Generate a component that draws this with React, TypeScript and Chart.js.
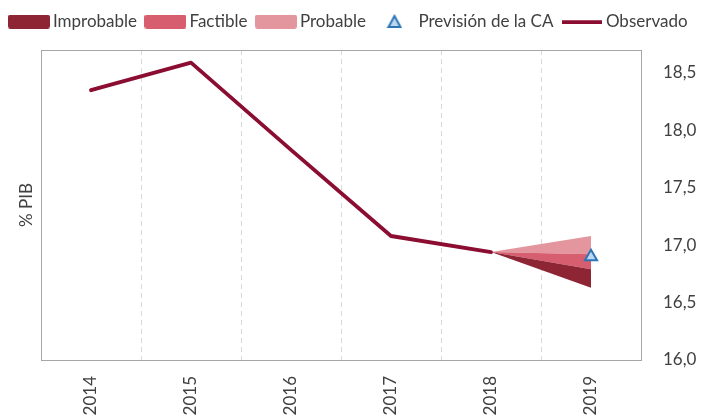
import React, { useEffect, useRef } from "react";
import { Chart, registerables } from "chart.js";

Chart.register(...registerables);

const years = ["2014", "2015", "2016", "2017", "2018", "2019"];
const observado = [18.35, 18.59, 17.83, 17.08, 16.94, null];
const improbableLow = [null, null, null, null, 16.94, 16.63];
const factibleLow = [null, null, null, null, 16.94, 16.79];
const probableLow = [null, null, null, null, 16.94, 16.92];
const probableHigh = [null, null, null, null, 16.94, 17.08];
const prevision = [null, null, null, null, null, 16.9];
const yTicks = [16.0, 16.5, 17.0, 17.5, 18.0, 18.5];
const legendLabels = ["Improbable", "Factible", "Probable", "Previsión de la CA", "Observado"];

const C_OBS = "#8B0D32";
const C_IMP = "#8E2535";
const C_FAC = "#D65E6E";
const C_PRO = "#E4969E";
const C_TRI_FILL = "#BDD7EE";
const C_TRI_LINE = "#2E75B6";
const TEXT = "#404040";
const FONT = "Lato";

function boxImg(color: string) {
  const c = document.createElement("canvas");
  c.width = 42; c.height = 14;
  const x = c.getContext("2d")!;
  x.fillStyle = color;
  x.beginPath();
  (x as any).roundRect(0, 0, 42, 14, 2.5);
  x.fill();
  return c;
}
function triImg() {
  const c = document.createElement("canvas");
  c.width = 16; c.height = 15;
  const x = c.getContext("2d")!;
  x.fillStyle = C_TRI_FILL;
  x.strokeStyle = C_TRI_LINE;
  x.lineWidth = 2;
  x.beginPath();
  x.moveTo(8, 2); x.lineTo(14, 13); x.lineTo(2, 13); x.closePath();
  x.fill(); x.stroke();
  return c;
}
function lineImg() {
  const c = document.createElement("canvas");
  c.width = 40; c.height = 4;
  const x = c.getContext("2d")!;
  x.fillStyle = C_OBS;
  x.fillRect(0, 0.5, 40, 3.5);
  return c;
}

const boxPlugin = {
  id: "plotBox",
  beforeInit(chart: any) {
    const lg = chart.legend;
    if (lg) {
      const orig = lg.fit;
      lg.fit = function () {
        orig.call(this);
        this.height += 10;
      };
    }
  },
  afterDraw(chart: any) {
    const { ctx, chartArea: a } = chart;
    ctx.save();
    ctx.strokeStyle = "#A6A6A6";
    ctx.lineWidth = 1;
    ctx.strokeRect(Math.round(a.left) + 0.5, Math.round(a.top) + 0.5, Math.round(a.right - a.left), Math.round(a.bottom - a.top));
    ctx.restore();
  },
};

export default function App() {
  const ref = useRef<HTMLCanvasElement>(null);
  useEffect(() => {
    const imgs = [boxImg(C_IMP), boxImg(C_FAC), boxImg(C_PRO), triImg(), lineImg()];
    const fanBase = { borderWidth: 0, pointRadius: 0, pointHoverRadius: 0, spanGaps: false };
    const chart = new Chart(ref.current!, {
      type: "line",
      data: {
        labels: years,
        datasets: [
          { ...fanBase, label: legendLabels[0], data: improbableLow, backgroundColor: C_IMP, borderColor: C_IMP, fill: 1, yAxisID: "y" },
          { ...fanBase, label: legendLabels[1], data: factibleLow, backgroundColor: C_FAC, borderColor: C_FAC, fill: 2, yAxisID: "y" },
          { ...fanBase, label: legendLabels[2], data: probableLow, backgroundColor: C_PRO, borderColor: C_PRO, fill: 5, yAxisID: "y" },
          {
            label: legendLabels[3], data: prevision, showLine: false, pointStyle: "triangle",
            pointRadius: 7, pointBackgroundColor: C_TRI_FILL, pointBorderColor: C_TRI_LINE, pointBorderWidth: 2,
            backgroundColor: C_TRI_FILL, borderColor: C_TRI_LINE, fill: false, yAxisID: "y",
          },
          {
            label: legendLabels[4], data: observado, borderColor: C_OBS, backgroundColor: C_OBS, borderWidth: 3.8,
            pointRadius: 0, fill: false, tension: 0, borderCapStyle: "round", borderJoinStyle: "round", yAxisID: "y",
          },
          { ...fanBase, label: "top", data: probableHigh, backgroundColor: C_PRO, borderColor: C_PRO, fill: false, yAxisID: "y" },
        ] as any,
      },
      options: {
        animation: false,
        responsive: true,
        maintainAspectRatio: false,
        layout: { padding: { top: 0, right: 0, bottom: 0, left: 0 } },
        plugins: {
          filler: { drawTime: "beforeDatasetsDraw" } as any,
          tooltip: { enabled: false },
          legend: {
            position: "top",
            labels: {
              usePointStyle: true,
              pointStyleWidth: 31,
              boxHeight: 14,
              padding: 13,
              color: TEXT,
              font: { family: FONT, size: 17 },
              generateLabels: () =>
                legendLabels.map((t, i) => ({
                  text: t, pointStyle: imgs[i] as any, fillStyle: "rgba(0,0,0,0)", strokeStyle: "rgba(0,0,0,0)",
                  lineWidth: 0, hidden: false, datasetIndex: i, fontColor: TEXT,
                })),
            },
          },
        },
        scales: {
          x: {
            type: "category",
            offset: true,
            grid: { display: true, offset: true, color: "#D9D9D9", lineWidth: 1, drawTicks: false },
            border: { display: false, dash: [5, 4] },
            ticks: { color: TEXT, font: { family: FONT, size: 17 }, minRotation: 90, maxRotation: 90, padding: 16, autoSkip: false },
            afterFit: (s: any) => { s.height = 59; },
          },
          y: {
            type: "linear",
            position: "right",
            min: 16,
            max: 18.7,
            grid: { display: false, drawTicks: false },
            border: { display: false },
            afterBuildTicks: (s: any) => { s.ticks = yTicks.map((v) => ({ value: v })); },
            ticks: {
              color: TEXT, font: { family: FONT, size: 17 }, padding: 22,
              callback: (v: any) => Number(v).toFixed(1).replace(".", ","),
            },
            afterFit: (s: any) => { s.width = 60; },
          },
          yl: {
            type: "linear",
            position: "left",
            min: 16,
            max: 18.7,
            grid: { display: false, drawTicks: false },
            border: { display: false },
            ticks: { display: false },
            title: { display: true, text: "% PIB", color: TEXT, font: { family: FONT, size: 17 }, padding: { top: 16, bottom: 4 } },
            afterFit: (s: any) => { s.width = 41; },
          },
        },
      },
      plugins: [boxPlugin],
    });
    return () => chart.destroy();
  }, []);
  return (
    <div style={{ position: "fixed", left: 0, top: 0, width: 701, height: 419, background: "#fff" }}>
      <canvas ref={ref} />
    </div>
  );
}
